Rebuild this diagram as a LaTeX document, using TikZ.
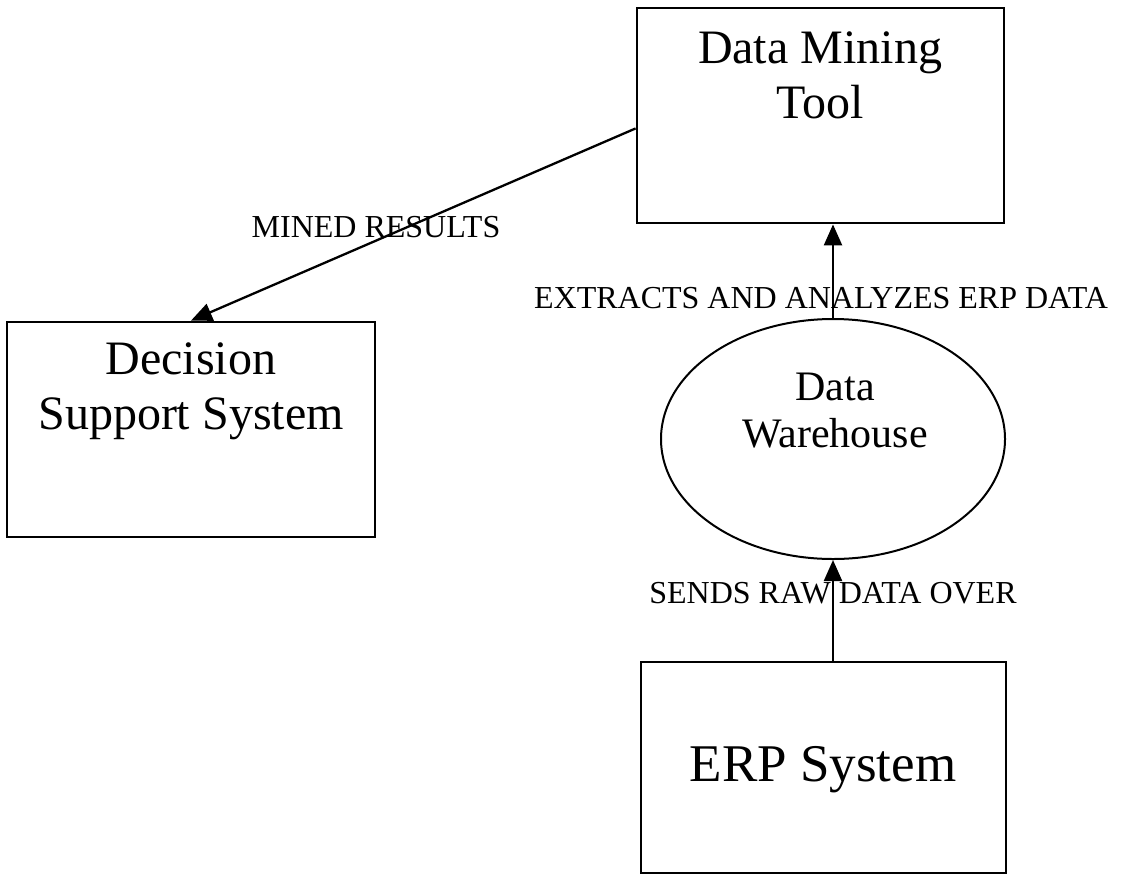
\documentclass[tikz,border=0pt]{standalone}
\usepackage{fontspec}
\setmainfont{Liberation Serif}
\usetikzlibrary{arrows.meta,shapes.geometric}
\begin{document}
\begin{tikzpicture}[x=1pt,y=-1pt,
  box/.style={draw, line width=2.8pt, rectangle, inner sep=0pt},
  store/.style={draw, line width=2pt, ellipse, inner sep=0pt},
  flow/.style={line width=2.3pt, -{Triangle[length=21pt,width=18pt]}},
  boxtext/.style={anchor=base, align=center, inner sep=0pt, font=\fontsize{48}{55}\selectfont},
  lbl/.style={anchor=base, inner sep=0pt, font=\fontsize{32}{38}\selectfont},
]
\useasboundingbox (0,0) rectangle (1121,876);

% process boxes and the data store
\node[box, minimum width=367pt, minimum height=215pt] (dmt) at (820.5,115.5) {};
\node[box, minimum width=368pt, minimum height=215pt] (dss) at (191,429.5) {};
\node[box, minimum width=365pt, minimum height=211pt] (erp) at (823.5,767.5) {};
\node[store, minimum width=344pt, minimum height=240pt] (dw) at (833,439) {};

% box captions (base anchor sits on the last line)
\node[boxtext] (dmttext) at (820,118) {Data Mining\\Tool};
\node[boxtext] (dsstext) at (191,429) {Decision\\Support System};
\node[anchor=base, inner sep=0pt, font=\fontsize{53}{60}\selectfont] (erptext) at (823,781) {ERP System};
\node[anchor=base, align=center, inner sep=0pt, font=\fontsize{42}{47}\selectfont] (dwtext) at (835,447) {Data\\Warehouse};

% data flows
\draw[flow] (dmt.184) -- (dss.north);
\draw[flow] (dw.north) -- (dw.north |- dmt.south);
\draw[flow] (erp.north -| dw.south) -- (dw.south);

% flow labels
\node[lbl] (mined) at (376,237) {MINED RESULTS};
\node[lbl] (extract) at (821,308) {EXTRACTS AND ANALYZES ERP DATA};
\node[lbl] (sends) at (833,603) {SENDS RAW DATA OVER};
\end{tikzpicture}
\end{document}
